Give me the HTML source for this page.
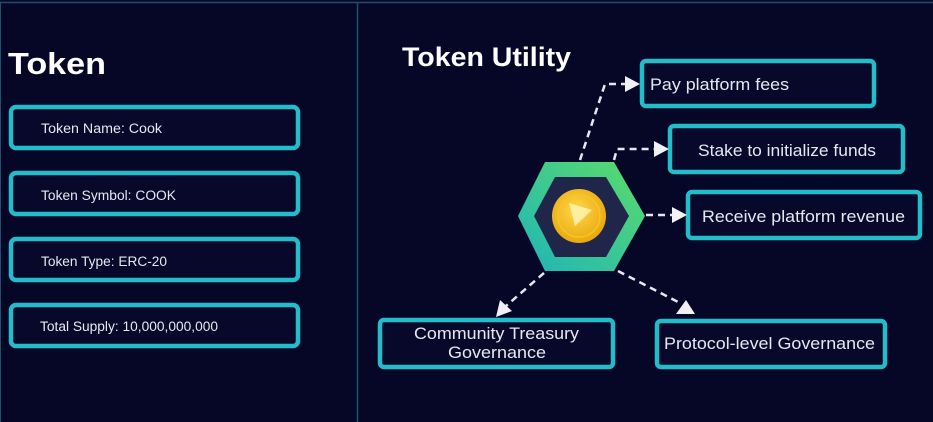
<!DOCTYPE html>
<html><head><style>
html,body{margin:0;padding:0;background:#060727;}
svg{display:block}
text{font-family:"Liberation Sans",sans-serif;fill:#e6e8f0}
</style></head><body>
<svg width="933" height="422" viewBox="0 0 933 422" xmlns="http://www.w3.org/2000/svg">
<defs>
<linearGradient id="hg" x1="1" y1="0" x2="0" y2="1">
<stop offset="0" stop-color="#5bdc6a"/><stop offset="1" stop-color="#1fb5b8"/>
</linearGradient>
<radialGradient id="cg" cx="0.45" cy="0.4" r="0.6">
<stop offset="0" stop-color="#ffd84a"/><stop offset="1" stop-color="#e9a80f"/>
</radialGradient>
</defs>
<rect width="933" height="422" fill="#060727"/>
<line x1="0" y1="2.5" x2="933" y2="2.5" stroke="#1f4f6a" stroke-width="1.5"/>
<line x1="357.5" y1="2" x2="357.5" y2="422" stroke="#1f4f6a" stroke-width="1.5"/>
<line x1="0.5" y1="2" x2="0.5" y2="422" stroke="#1f4f6a" stroke-width="1"/>

<text x="8" y="74" font-size="31" font-weight="bold" style="fill:#fff" textLength="98" lengthAdjust="spacingAndGlyphs">Token</text>
<g fill="#07082a" stroke="#22bccb" stroke-width="4.5">
<rect x="11" y="107" width="287" height="41" rx="5"/>
<rect x="11" y="173" width="287" height="41" rx="5"/>
<rect x="11" y="239" width="287" height="41" rx="5"/>
<rect x="11" y="305" width="287" height="41" rx="5"/>
</g>
<g font-size="13.5" lengthAdjust="spacingAndGlyphs">
<text x="41" y="133" textLength="121" lengthAdjust="spacingAndGlyphs">Token Name: Cook</text>
<text x="41" y="200" textLength="135" lengthAdjust="spacingAndGlyphs">Token Symbol: COOK</text>
<text x="41" y="266" textLength="126" lengthAdjust="spacingAndGlyphs">Token Type: ERC-20</text>
<text x="40" y="331" textLength="178" lengthAdjust="spacingAndGlyphs">Total Supply: 10,000,000,000</text>
</g>

<text x="402" y="66" font-size="27" font-weight="bold" style="fill:#fff" textLength="169" lengthAdjust="spacingAndGlyphs">Token Utility</text>

<g fill="#07082a" stroke="#22bccb" stroke-width="4.5">
<rect x="642" y="61" width="232" height="45" rx="4"/>
<rect x="670" y="126" width="233" height="46" rx="4"/>
<rect x="688" y="192" width="232" height="46" rx="4"/>
<rect x="380" y="320" width="233" height="47" rx="4"/>
<rect x="657" y="321" width="228" height="46" rx="4"/>
</g>
<g font-size="16.5">
<text x="650" y="90" textLength="139" lengthAdjust="spacingAndGlyphs">Pay platform fees</text>
<text x="698" y="156" textLength="178" lengthAdjust="spacingAndGlyphs">Stake to initialize funds</text>
<text x="702" y="222" textLength="203" lengthAdjust="spacingAndGlyphs">Receive platform revenue</text>
<text x="414" y="339" textLength="165" lengthAdjust="spacingAndGlyphs">Community Treasury</text>
<text x="448" y="358" textLength="98" lengthAdjust="spacingAndGlyphs">Governance</text>
<text x="664" y="349" textLength="211" lengthAdjust="spacingAndGlyphs">Protocol-level Governance</text>
</g>

<g stroke="#e6e8f0" stroke-width="2.5" stroke-dasharray="7,5" fill="none">
<polyline points="580,160 605,84 625,84"/>
<polyline points="614,160 617,149 654,149"/>
<line x1="646" y1="215" x2="672" y2="215"/>
<line x1="544" y1="273" x2="506" y2="306"/>
<line x1="618" y1="271" x2="680" y2="303"/>
</g>
<g fill="#f0f0f5">
<polygon points="625,76 640,84 625,92"/>
<polygon points="654,141 669,149 654,157"/>
<polygon points="672,207 687,215 672,223"/>
<polygon points="496,317 500,300 512,311"/>
<polygon points="695,314 676,314 686,300"/>
</g>

<polygon points="545,162 614,162 645,216 614,271 545,271 518,216" fill="url(#hg)"/>
<polygon points="555,177 606,177 629,216 606,257 555,257 534,216" fill="#20264a"/>
<circle cx="579" cy="216" r="27" fill="url(#cg)"/>
<circle cx="579" cy="216" r="21" fill="none" stroke="#f7c52a" stroke-width="1.5"/>
<polygon points="569,203 592,210 575,226" fill="#fff3b0" opacity="0.85"/>
</svg>
</body></html>
